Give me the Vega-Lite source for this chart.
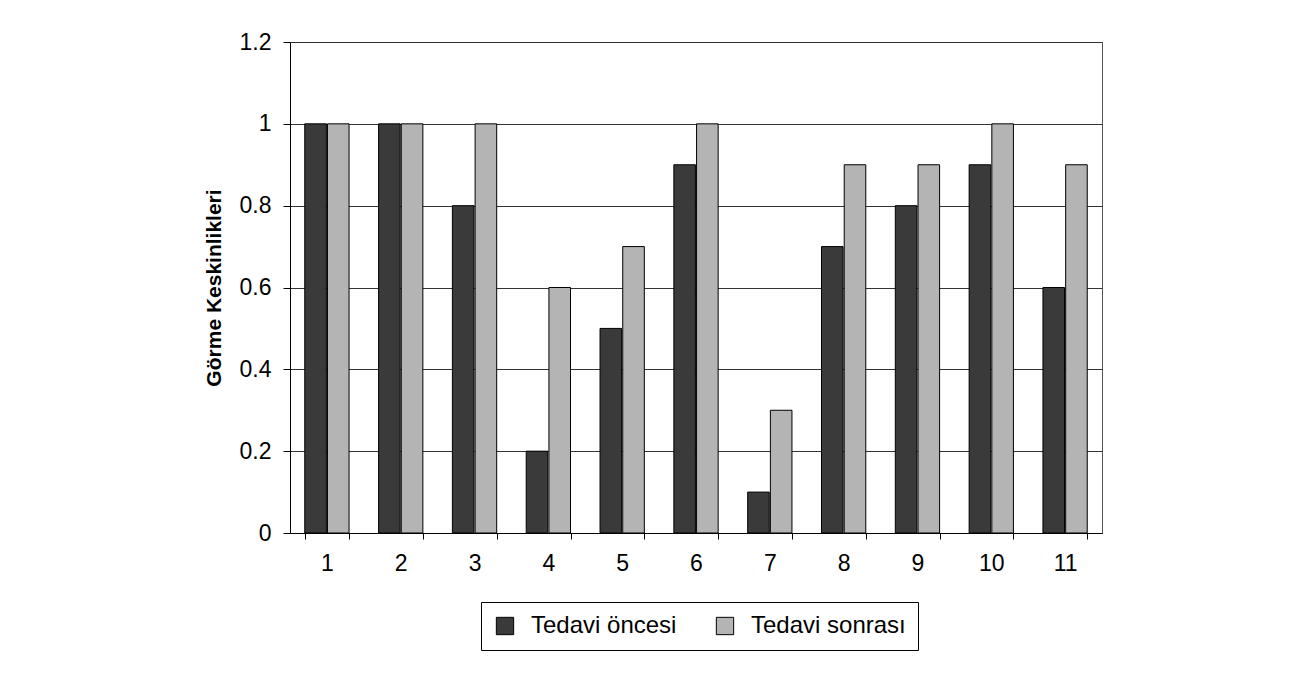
{
  "$schema": "https://vega.github.io/schema/vega-lite/v6.json",
  "width": 812,
  "height": 491,
  "autosize": "none",
  "padding": {"left": 290, "top": 42, "right": 198, "bottom": 145},
  "background": "white",
  "data": {
    "values": [
      {"hasta": "1", "grup": "Tedavi öncesi", "deger": 1.0},
      {"hasta": "1", "grup": "Tedavi sonrası", "deger": 1.0},
      {"hasta": "2", "grup": "Tedavi öncesi", "deger": 1.0},
      {"hasta": "2", "grup": "Tedavi sonrası", "deger": 1.0},
      {"hasta": "3", "grup": "Tedavi öncesi", "deger": 0.8},
      {"hasta": "3", "grup": "Tedavi sonrası", "deger": 1.0},
      {"hasta": "4", "grup": "Tedavi öncesi", "deger": 0.2},
      {"hasta": "4", "grup": "Tedavi sonrası", "deger": 0.6},
      {"hasta": "5", "grup": "Tedavi öncesi", "deger": 0.5},
      {"hasta": "5", "grup": "Tedavi sonrası", "deger": 0.7},
      {"hasta": "6", "grup": "Tedavi öncesi", "deger": 0.9},
      {"hasta": "6", "grup": "Tedavi sonrası", "deger": 1.0},
      {"hasta": "7", "grup": "Tedavi öncesi", "deger": 0.1},
      {"hasta": "7", "grup": "Tedavi sonrası", "deger": 0.3},
      {"hasta": "8", "grup": "Tedavi öncesi", "deger": 0.7},
      {"hasta": "8", "grup": "Tedavi sonrası", "deger": 0.9},
      {"hasta": "9", "grup": "Tedavi öncesi", "deger": 0.8},
      {"hasta": "9", "grup": "Tedavi sonrası", "deger": 0.9},
      {"hasta": "10", "grup": "Tedavi öncesi", "deger": 0.9},
      {"hasta": "10", "grup": "Tedavi sonrası", "deger": 1.0},
      {"hasta": "11", "grup": "Tedavi öncesi", "deger": 0.6},
      {"hasta": "11", "grup": "Tedavi sonrası", "deger": 0.9}
    ]
  },
  "mark": {"type": "bar", "stroke": "black", "strokeWidth": 1},
  "encoding": {
    "x": {
      "field": "hasta",
      "type": "nominal",
      "sort": null,
      "scale": {"paddingInner": 0.4, "paddingOuter": 0.2},
      "axis": {
        "title": null,
        "labelAngle": 0,
        "labelFontSize": 23,
        "labelPadding": 13,
        "tickBand": "extent",
        "tickSize": 6,
        "tickColor": "black",
        "domainColor": "black",
        "labelColor": "black",
        "grid": false
      }
    },
    "xOffset": {"field": "grup", "type": "nominal", "sort": ["Tedavi öncesi", "Tedavi sonrası"], "scale": {"paddingInner": 0.05}},
    "y": {
      "field": "deger",
      "type": "quantitative",
      "scale": {"domain": [0, 1.2], "nice": false},
      "axis": {
        "title": "Görme Keskinlikleri",
        "titleFontSize": 21,
        "titleFontWeight": "bold",
        "titleColor": "black",
        "titlePadding": 15,
        "values": [0, 0.2, 0.4, 0.6, 0.8, 1, 1.2],
        "format": "~g",
        "labelFontSize": 23,
        "labelColor": "black",
        "labelPadding": 12,
        "tickSize": 7,
        "tickColor": "black",
        "domainColor": "black",
        "gridColor": "#333333",
        "gridOpacity": 1
      }
    },
    "color": {
      "field": "grup",
      "type": "nominal",
      "sort": ["Tedavi öncesi", "Tedavi sonrası"],
      "scale": {"domain": ["Tedavi öncesi", "Tedavi sonrası"], "range": ["#3a3a3a", "#b4b4b4"]},
      "legend": {
        "title": null,
        "orient": "none",
        "legendX": 191,
        "legendY": 560,
        "direction": "horizontal",
        "symbolType": "square",
        "symbolSize": 300,
        "symbolStrokeColor": "black",
        "symbolStrokeWidth": 1,
        "labelFontSize": 24,
        "labelColor": "black",
        "labelOffset": 14,
        "columnPadding": 36,
        "padding": 12,
        "strokeColor": "black",
        "fillColor": "white"
      }
    }
  },
  "config": {
    "font": "Liberation Sans",
    "view": {"stroke": "#555555", "strokeWidth": 1}
  }
}
